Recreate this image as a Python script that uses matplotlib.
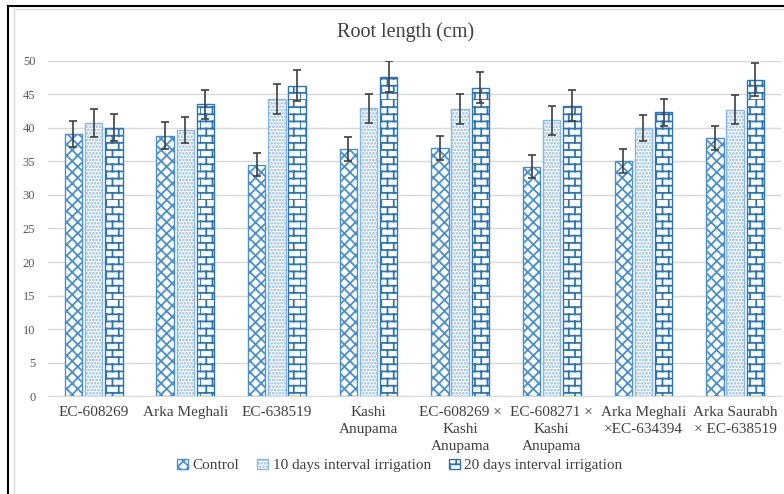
import numpy as np
import matplotlib
matplotlib.use('Agg')
import matplotlib.pyplot as plt
import matplotlib.hatch as mhatch
from matplotlib.path import Path
from matplotlib.lines import Line2D

genotypes = ["EC-608269", "Arka Meghali", "EC-638519", "Kashi\nAnupama",
             "EC-608269 ×\nKashi\nAnupama", "EC-608271 ×\nKashi\nAnupama",
             "Arka Meghali\n×EC-634394", "Arka Saurabh\n× EC-638519"]
series_names = ["Control", "10 days interval irrigation", "20 days interval irrigation"]

control = [39.1, 38.8, 34.5, 36.8, 37.0, 34.2, 35.0, 38.5]
days10 = [40.7, 39.7, 44.3, 42.9, 42.8, 41.1, 40.0, 42.7]
days20 = [40.0, 43.5, 46.3, 47.6, 46.0, 43.3, 42.3, 47.2]

control_err = [1.9, 2.0, 1.7, 1.8, 1.8, 1.7, 1.8, 1.8]
days10_err = [2.1, 1.9, 2.3, 2.2, 2.2, 2.1, 1.9, 2.2]
days20_err = [2.0, 2.2, 2.3, 2.3, 2.3, 2.3, 2.0, 2.4]


# brick hatch, hooked onto the '*' character
class BrickHatch(mhatch.HatchPatternBase):
    def __init__(self, hatch, density):
        n = hatch.count('*')
        self.rows = 14 * n
        self.cols = 8 * n
        self.num_vertices = self.rows * 2 + self.rows * self.cols * 2

    def set_vertices_and_codes(self, vertices, codes):
        k = 0
        for r in range(self.rows):
            y0 = r / self.rows
            y1 = (r + 1) / self.rows
            vertices[k] = (0.0, y0)
            vertices[k + 1] = (1.0, y0)
            codes[k] = Path.MOVETO
            codes[k + 1] = Path.LINETO
            k += 2
            shift = 0.5 / self.cols if r % 2 else 0.0
            for c in range(self.cols):
                xx = c / self.cols + shift
                vertices[k] = (xx, y0)
                vertices[k + 1] = (xx, y1)
                codes[k] = Path.MOVETO
                codes[k + 1] = Path.LINETO
                k += 2


mhatch._hatch_types = [h for h in mhatch._hatch_types if h is not mhatch.Stars] + [BrickHatch]

plt.rcParams['font.family'] = ['Liberation Serif', 'DejaVu Serif']
plt.rcParams['hatch.linewidth'] = 1.3

fig = plt.figure(figsize=(7.84, 4.94), dpi=100)
ax = fig.add_axes([0.061, 0.198, 0.935, 0.679])

x = np.arange(len(genotypes))
w = 0.19
off = 0.22
styles = [
    dict(hatch='xxx', edgecolor='#4a8fd0'),
    dict(hatch='.....', edgecolor='#8ab8e3'),
    dict(hatch='*', edgecolor='#2e75b6'),
]
vals = [control, days10, days20]
errs = [control_err, days10_err, days20_err]
for i in range(3):
    ax.bar(x + (i - 1) * off, vals[i], w, yerr=errs[i], color='white',
           linewidth=1.0, label=series_names[i],
           error_kw=dict(ecolor='#404040', elinewidth=1.2, capsize=3, capthick=1.2),
           **styles[i])

ax.set_xlim(-0.5, len(genotypes) - 0.5)
ax.set_ylim(0, 50)
ax.set_yticks(range(0, 51, 5))
ax.yaxis.grid(True, color='#d9d9d9', linewidth=1)
ax.set_axisbelow(True)
for s in ['top', 'right', 'left']:
    ax.spines[s].set_visible(False)
ax.spines['bottom'].set_color('#d9d9d9')
ax.tick_params(axis='y', length=0, labelsize=9, labelcolor='#595959', pad=9)
ax.tick_params(axis='x', length=0, labelsize=11, labelcolor='#404040', pad=7)
ax.set_xticks(x)
ax.set_xticklabels(genotypes, linespacing=1.4)

fig.text(0.517, 0.935, "Root length (cm)", ha='center', va='center', fontsize=14.5, color='#404040')

fig.legend(loc='center', bbox_to_anchor=(0.51, 0.058), ncol=3, frameon=False,
           fontsize=11, handlelength=0.7, handleheight=0.7, handletextpad=0.3,
           columnspacing=1.2, labelcolor='#404040')

# outer borders
fig.add_artist(Line2D([0.0102, 0.0102], [0, 0.988], color='black', linewidth=1.5, transform=fig.transFigure))
fig.add_artist(Line2D([0.0102, 1.0], [0.988, 0.988], color='black', linewidth=1.5, transform=fig.transFigure))
fig.add_artist(Line2D([0.018, 0.018], [0, 0.982], color='#d9d9d9', linewidth=1, transform=fig.transFigure))
fig.add_artist(Line2D([0.018, 1.0], [0.982, 0.982], color='#d9d9d9', linewidth=1, transform=fig.transFigure))

fig.savefig('out.png', dpi=100, facecolor='white')
